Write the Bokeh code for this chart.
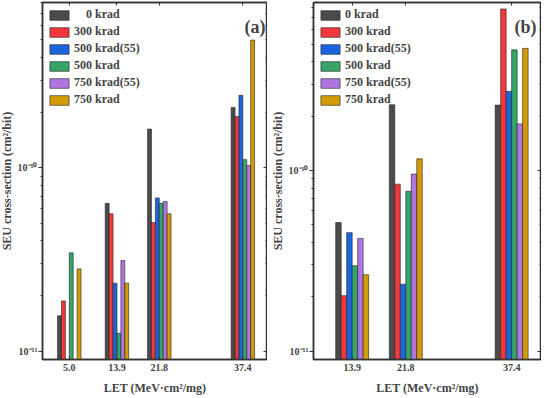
import math
from bokeh.plotting import figure
from bokeh.layouts import row
from bokeh.models import (FixedTicker, PrintfTickFormatter,
                          LinearAxis, LogAxis, Range1d, Label, CustomJSTickFormatter)
from bokeh.embed import file_html
from bokeh.resources import INLINE

NaN = float("nan")

# ---------------- data ----------------
series_a = ["\u2007\u20070 krad", "300 krad", "500 krad(55)", "500 krad", "750 krad(55)", "750 krad"]
series_b = ["0 krad", "300 krad", "500 krad(55)", "500 krad", "750 krad(55)", "750 krad"]
colors = ["#4b4b4b", "#f4373c", "#1b66de", "#36a56a", "#b076e2", "#d39c06"]

let_a = [5.0, 13.9, 21.8, 37.4]
a_0krad = [1.56e-11, 6.41e-11, 1.63e-10, 2.14e-10]
a_300krad = [1.88e-11, 5.62e-11, 5.04e-11, 1.91e-10]
a_500krad_55 = [NaN, 2.35e-11, 6.86e-11, 2.49e-10]
a_500krad = [3.44e-11, 1.25e-11, 6.41e-11, 1.11e-10]
a_750krad_55 = [NaN, 3.12e-11, 6.55e-11, 1.03e-10]
a_750krad = [2.81e-11, 2.35e-11, 5.62e-11, 4.99e-10]

let_b = [13.9, 21.8, 37.4]
b_0krad = [5.15e-11, 2.31e-10, 2.30e-10]
b_300krad = [2.03e-11, 8.40e-11, 7.83e-10]
b_500krad_55 = [4.53e-11, 2.35e-11, 2.74e-10]
b_500krad = [2.97e-11, 7.67e-11, 4.65e-10]
b_750krad_55 = [4.21e-11, 9.55e-11, 1.81e-10]
b_750krad = [2.65e-11, 1.16e-10, 4.74e-10]

y_major = [1e-11, 1e-10]

FONT = "Liberation Serif"
AX = "#333333"
BLANK = CustomJSTickFormatter(code="return '';")
LOGFMT = CustomJSTickFormatter(code="""
const sup = {'-':'\u207b','0':'\u2070','1':'\u00b9','2':'\u00b2','3':'\u00b3','4':'\u2074',
             '5':'\u2075','6':'\u2076','7':'\u2077','8':'\u2078','9':'\u2079'};
const e = String(Math.round(Math.log10(tick)));
return '10' + e.split('').map(c => sup[c]).join('');
""")


def make_panel(lets, values, names, xr, yr, bar_w, width, bl, br, tag, tag_dx):
    p = figure(width=width, height=397, x_range=xr, y_range=yr,
               y_axis_type="log", output_backend="svg", toolbar_location=None,
               min_border_left=bl, min_border_right=br, min_border_top=2,
               min_border_bottom=20)
    p.xgrid.visible = False
    p.ygrid.visible = False
    p.outline_line_color = AX
    p.outline_line_width = 1.5

    bottom = yr.start / 10
    for i, (vals, name, col) in enumerate(zip(values, names, colors)):
        pairs = [(l + (i - 2.5) * bar_w, v) for l, v in zip(lets, vals) if not math.isnan(v)]
        xs = [a for a, _ in pairs]
        tops = [b for _, b in pairs]
        p.vbar(x=xs, top=tops, bottom=bottom, width=bar_w, fill_color=col,
               line_color="#222222", line_width=0.6, legend_label=name)

    minor = [m * t for t in y_major for m in range(2, 10)]
    # left axis
    ya = p.yaxis[0]
    ya.ticker = FixedTicker(ticks=y_major, minor_ticks=minor)
    ya.formatter = LOGFMT
    ya.major_tick_out = 4
    ya.major_tick_in = 0
    ya.minor_tick_out = 2
    ya.minor_tick_in = 0
    ya.axis_line_color = AX
    ya.axis_line_width = 1.5
    ya.major_tick_line_color = AX
    ya.minor_tick_line_color = AX
    ya.major_label_text_font = FONT
    ya.major_label_text_font_style = "bold"
    ya.major_label_text_font_size = "10px"
    ya.major_label_standoff = 1
    ya.axis_label = "SEU cross-section (cm\u00b2/bit)"
    ya.axis_label_text_font = FONT
    ya.axis_label_text_font_style = "bold"
    ya.axis_label_text_font_size = "12px"
    ya.axis_label_standoff = 1

    # right axis (ticks inward)
    ra = LogAxis(ticker=FixedTicker(ticks=y_major, minor_ticks=minor), formatter=BLANK,
                 major_label_standoff=0,
                 major_tick_in=4, major_tick_out=0, minor_tick_in=2, minor_tick_out=0,
                 axis_line_color=AX, axis_line_width=1.5,
                 major_tick_line_color=AX, minor_tick_line_color=AX)
    p.add_layout(ra, "right")

    # bottom axis
    xa = p.xaxis[0]
    xa.ticker = FixedTicker(ticks=lets)
    xa.formatter = PrintfTickFormatter(format="%.1f")
    xa.major_tick_in = 3
    xa.major_tick_out = 0
    xa.axis_line_color = AX
    xa.axis_line_width = 1.5
    xa.major_tick_line_color = AX
    xa.major_label_text_font = FONT
    xa.major_label_text_font_style = "bold"
    xa.major_label_text_font_size = "10px"
    xa.major_label_standoff = 4
    xa.axis_label = "LET (MeV\u00b7cm\u00b2/mg)"
    xa.axis_label_text_font = FONT
    xa.axis_label_text_font_style = "bold"
    xa.axis_label_text_font_size = "12px"
    xa.axis_label_standoff = 7

    ta = LinearAxis(ticker=FixedTicker(ticks=lets), formatter=BLANK,
                    major_label_standoff=0, major_tick_in=3, major_tick_out=0,
                    axis_line_color=AX, axis_line_width=1.5, major_tick_line_color=AX)
    p.add_layout(ta, "above")

    lg = p.legend[0]
    lg.location = "top_left"
    lg.background_fill_alpha = 0
    lg.border_line_alpha = 0
    lg.glyph_width = 24
    lg.glyph_height = 12
    lg.label_height = 12
    lg.spacing = 2
    lg.padding = 1
    lg.margin = 4
    lg.label_standoff = 3
    lg.label_text_font = FONT
    lg.label_text_font_style = "bold"
    lg.label_text_font_size = "12px"

    p.add_layout(Label(x=xr.end, y=yr.end, x_offset=tag_dx, y_offset=-14, text=tag,
                       text_align="right", text_baseline="top", text_font=FONT,
                       text_font_style="bold", text_font_size="18px"))
    return p


pa = make_panel(let_a, [a_0krad, a_300krad, a_500krad_55, a_500krad, a_750krad_55, a_750krad],
                series_a, Range1d(0, 42), Range1d(9.0e-12, 8.0e-10), 0.73,
                271, 30, 0, "(a)", -2)
pb = make_panel(let_b, [b_0krad, b_300krad, b_500krad_55, b_500krad, b_750krad_55, b_750krad],
                series_b, Range1d(8.2, 41.8), Range1d(9.0e-12, 8.5e-10), 0.81,
                274, 40, 0, "(b)", -5)

layout = row(pa, pb, spacing=0, margin=(0, 0, 0, -4))
open("out.html", "w").write(file_html(layout, INLINE))
